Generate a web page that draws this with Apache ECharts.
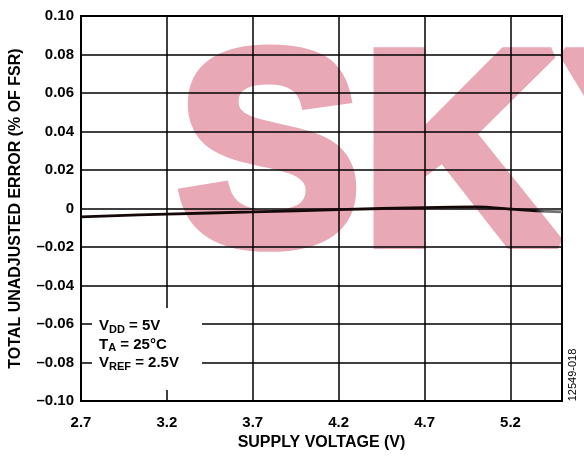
<!DOCTYPE html>
<html>
<head>
<meta charset="utf-8">
<script src="https://cdn.jsdelivr.net/npm/echarts@6/dist/echarts.min.js"></script>
<style>
	html, body {margin: 0; padding: 0; background: #fff;}
	#chart {width: 584px; height: 457px;}
</style>
</head>
<body>
<div id="chart"></div>
<script>
/* 数据 */
const voltage = [2.7, 3.2, 3.7, 4.2, 4.7, 5.0, 5.2, 5.35, 5.5];
const tue = [-0.0043, -0.0029, -0.0018, -0.0006, 0.0005, 0.0008, -0.0003, -0.0012, -0.0018];
const xTicks = [2.7, 3.2, 3.7, 4.2, 4.7, 5.2];
const yTicks = [-0.10, -0.08, -0.06, -0.04, -0.02, 0, 0.02, 0.04, 0.06, 0.08, 0.10];

const font = 'Liberation Sans, Arial, sans-serif';

const chart = echarts.init(document.getElementById('chart'));

function yLabel(v) {
	if (Math.abs(v) < 1e-9) return '0';
	return (v < 0 ? '\u2013' : '') + Math.abs(v).toFixed(2);
}

chart.setOption({
	animation: false,
	grid: {
		left: 80, right: 22, top: 16, bottom: 56,
		show: true, borderColor: '#000', borderWidth: 2
	},
	graphic: [
		// 水印 (描边加粗)
		{
			type: 'text', z: -10, silent: true,
			left: 171, top: 23,
			style: {
				text: 'SKY', fill: '#e8a8b5',
				stroke: '#e8a8b5', lineWidth: 12, lineJoin: 'miter',
				font: 'bold 276px ' + font
			}
		},
		// 条件说明框
		{
			type: 'rect', z: 50,
			shape: {x: 92, y: 308, width: 110, height: 82},
			style: {fill: '#fff'}
		},
		{
			type: 'text', z: 51, left: 99, top: 317,
			style: {
				text: '{m|V}{s|DD}{m| = 5V}\n{m|T}{s|A}{m| = 25°C}\n{m|V}{s|REF}{m| = 2.5V}',
				rich: {
					m: {font: 'bold 15px ' + font, fill: '#000', lineHeight: 18.5},
					s: {font: 'bold 11px ' + font, fill: '#000', padding: [7, 0, 0, 0], lineHeight: 18.5}
				}
			}
		},
		{
			type: 'text', z: 51, x: 573, y: 375, rotation: Math.PI / 2,
			style: {
				text: '12549-018', font: '11px ' + font, fill: '#000',
				align: 'center', verticalAlign: 'middle'
			}
		}
	],
	xAxis: {
		type: 'value', min: 2.7, max: 5.5, interval: 0.5,
		name: 'SUPPLY VOLTAGE (V)', nameLocation: 'middle', nameGap: 31,
		nameTextStyle: {fontFamily: font, fontWeight: 'bold', fontSize: 16, color: '#000'},
		axisLine: {show: true, onZero: false, lineStyle: {color: '#000', width: 2}},
		axisTick: {show: false},
		axisLabel: {
			margin: 14, fontFamily: font, fontWeight: 'bold', fontSize: 15, color: '#000',
			formatter: function (v) {
				const t = xTicks.find(function (x) { return Math.abs(x - v) < 1e-6; });
				return t === undefined ? '' : t.toFixed(1);
			}
		},
		splitLine: {show: true, lineStyle: {color: '#000', width: 1.5}}
	},
	yAxis: {
		type: 'value', min: yTicks[0], max: yTicks[yTicks.length - 1], interval: 0.02,
		name: 'TOTAL UNADJUSTED ERROR (% OF FSR)', nameLocation: 'middle', nameGap: 57,
		nameTextStyle: {fontFamily: font, fontWeight: 'bold', fontSize: 16, color: '#000'},
		axisLine: {show: true, lineStyle: {color: '#000', width: 2}},
		axisTick: {show: false},
		axisLabel: {
			margin: 7, fontFamily: font, fontWeight: 'bold', fontSize: 15, color: '#000',
			formatter: yLabel
		},
		splitLine: {show: true, lineStyle: {color: '#000', width: 1.5}}
	},
	series: [
		{
			type: 'line', smooth: 0.4, showSymbol: false, z: 20,
			lineStyle: {
				width: 2.8,
				color: {
					type: 'linear', x: 0, y: 0, x2: 1, y2: 0,
					colorStops: [
						{offset: 0, color: '#140808'},
						{offset: 0.94, color: '#140808'},
						{offset: 0.96, color: '#707070'},
						{offset: 1, color: '#707070'}
					]
				}
			},
			data: voltage.map(function (v, i) { return [v, tue[i]]; })
		}
	]
});
</script>
</body>
</html>
